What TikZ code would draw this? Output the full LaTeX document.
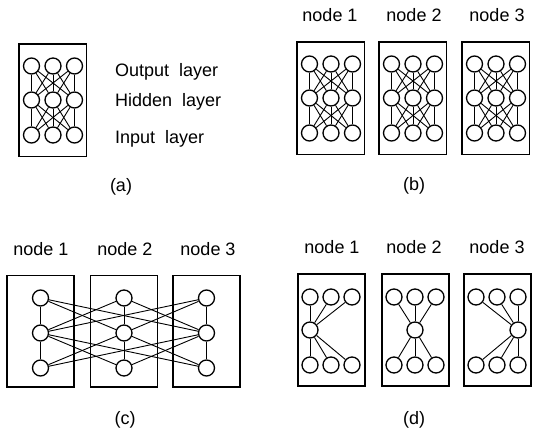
\documentclass[tikz,border=0pt]{standalone}
\usepackage{fontspec}
\setmainfont{Liberation Sans}

\begin{document}
\begin{tikzpicture}[x=1pt, y=-1pt,
    unit/.style={circle, draw, line width=1.3pt, minimum size=16pt, inner sep=0pt},
    frame/.style={line width=1.3pt},
    link/.style={line width=0.9pt},
    lbl/.style={inner sep=0pt, font=\fontsize{18}{20}\selectfont}]

    \useasboundingbox (0,0) rectangle (534,428);

    % (a) and (b): full net on every box
    \foreach \b/\l/\t in {a/19/44, b1/297/42, b2/379/42, b3/462/42} {
        \draw[frame] (\l,\t) rectangle ++(67.5,112.5);
        \foreach \r/\dy in {o/22, h/56, i/91} {
            \foreach \c/\dx in {1/12.5, 2/34, 3/55.5} {
                \node[unit] (\b-\r\c) at ({\l+\dx},{\t+\dy}) {};
            }
        }
        \foreach \i in {1,2,3} {
            \foreach \j in {1,2,3} {
                \draw[link] (\b-o\i) -- (\b-h\j);
                \draw[link] (\b-h\i) -- (\b-i\j);
            }
        }
    }

    \node[lbl, anchor=base west] (txt-o) at (115,76.5) {Output~~layer};
    \node[lbl, anchor=base west] (txt-h) at (115,106) {Hidden~~layer};
    \node[lbl, anchor=base west] (txt-i) at (115,143.5) {Input~~layer};

    \node[lbl, anchor=base] (b-n1) at (330,22) {node 1};
    \node[lbl, anchor=base] (b-n2) at (414,22) {node 2};
    \node[lbl, anchor=base] (b-n3) at (497,22) {node 3};

    % (c): one unit per layer on every box
    \foreach \b/\l in {c1/7, c2/90.5, c3/173} {
        \draw[frame] (\l,275.5) rectangle ++(67,111.5);
        \foreach \r/\y in {o/298, h/333, i/368} {
            \node[unit] (\b-\r) at ({\l+33.5},\y) {};
        }
    }
    \foreach \i in {1,2,3} {
        \foreach \j in {1,2,3} {
            \draw[link] (c\i-o) -- (c\j-h);
            \draw[link] (c\i-h) -- (c\j-i);
        }
    }

    \node[lbl, anchor=base] (c-n1) at (41,255) {node 1};
    \node[lbl, anchor=base] (c-n2) at (125,255) {node 2};
    \node[lbl, anchor=base] (c-n3) at (208,255) {node 3};

    % (d): one hidden unit per box
    \foreach \b/\l/\m in {d1/298/12, d2/382/33, d3/464/54} {
        \draw[frame] (\l,274) rectangle ++(67,112);
        \node[unit] (\b-h) at ({\l+\m},330) {};
        \foreach \c/\dx in {1/12, 2/33, 3/54} {
            \node[unit] (\b-o\c) at ({\l+\dx},297) {};
            \node[unit] (\b-i\c) at ({\l+\dx},365) {};
            \draw[link] (\b-o\c) -- (\b-h);
            \draw[link] (\b-h) -- (\b-i\c);
        }
    }

    \node[lbl, anchor=base] (d-n1) at (332,253.5) {node 1};
    \node[lbl, anchor=base] (d-n2) at (414,253.5) {node 2};
    \node[lbl, anchor=base] (d-n3) at (497,253.5) {node 3};

    \node[lbl] (cap-a) at (121,187) {(a)};
    \node[lbl] (cap-b) at (414,186) {(b)};
    \node[lbl] (cap-c) at (125,420) {(c)};
    \node[lbl] (cap-d) at (414,420) {(d)};

\end{tikzpicture}
\end{document}
